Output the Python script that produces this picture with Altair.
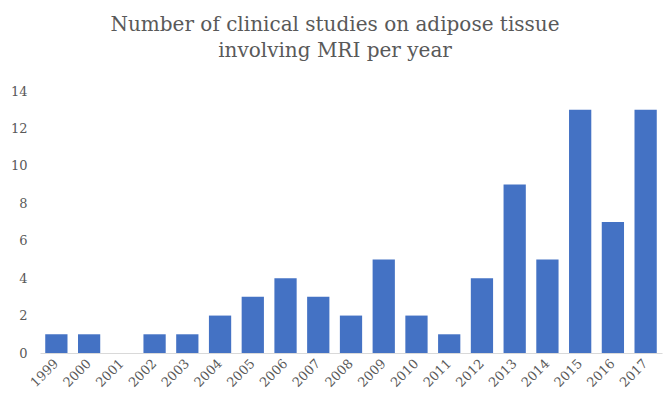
import altair as alt
import pandas as pd

years = ["1999", "2000", "2001", "2002", "2003", "2004", "2005", "2006", "2007", "2008",
         "2009", "2010", "2011", "2012", "2013", "2014", "2015", "2016", "2017"]
counts = [1, 1, 0, 1, 1, 2, 3, 4, 3, 2, 5, 2, 1, 4, 9, 5, 13, 7, 13]

df = pd.DataFrame({"year": years, "count": counts})

font = "DejaVu Serif"
grey = "#595959"

bars = alt.Chart(df).mark_bar(color="#4472C4").encode(
    x=alt.X("year:N", sort=years, title=None,
            scale=alt.Scale(paddingInner=0.32, paddingOuter=0.16),
            axis=alt.Axis(labelAngle=-45, labelAlign="right", labelBaseline="middle",
                          labelFont=font, labelFontSize=13, labelColor=grey,
                          domainColor="#d9d9d9", domainWidth=1, ticks=False, labelPadding=8)),
    y=alt.Y("count:Q", title=None,
            scale=alt.Scale(domain=[0, 14]),
            axis=alt.Axis(values=[0, 2, 4, 6, 8, 10, 12, 14], grid=False, domain=False, ticks=False,
                          labelFont=font, labelFontSize=13, labelColor=grey, labelPadding=13)),
)

chart = bars.properties(
    width=622, height=262,
    title=alt.TitleParams(
        text=["Number of clinical studies on adipose tissue", "involving MRI per year"],
        font=font, fontSize=20, fontWeight="normal", color=grey,
        anchor="middle", dx=-16, offset=24, lineHeight=26,
    ),
    autosize=alt.AutoSizeParams(type="none"),
    padding={"left": 40, "top": 91, "right": 6, "bottom": 44},
).configure_view(stroke=None)

chart.save("out.html", embed_options={"renderer": "svg", "actions": False})
